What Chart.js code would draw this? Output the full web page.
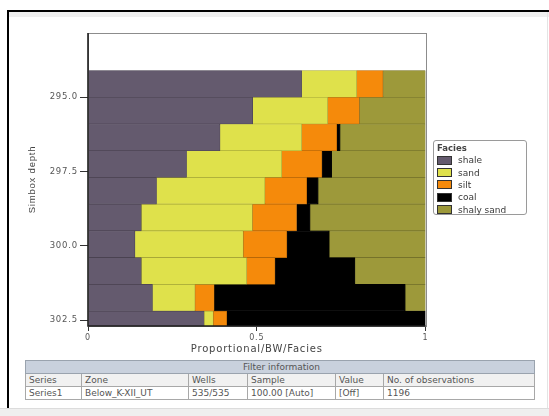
<!DOCTYPE html>
<html>
<head>
<meta charset="utf-8">
<script src="https://cdn.jsdelivr.net/npm/chart.js@4/dist/chart.umd.min.js"></script>
<style>
  html, body { margin: 0; padding: 0; background: #fff; }
  body { width: 549px; height: 416px; position: relative; overflow: hidden;
         font-family: "DejaVu Sans", sans-serif; }
  #frameTop { position: absolute; left: 7px; top: 10px; width: 542px; height: 2px; background: #000; }
  #bandTop { position: absolute; left: 9px; top: 12px; width: 540px; height: 5px; background: #efefef; }
  #frameLeft { position: absolute; left: 7px; top: 10px; width: 2px; height: 398px; background: #000; }
  #frameRight { position: absolute; left: 547px; top: 12px; width: 1px; height: 396px; background: #e4e4e4; }
  #bandBottom { position: absolute; left: 0; top: 408px; width: 549px; height: 8px; background: #efefef;
                border-top: 1px solid #dcdcdc; }
  #wrap { position: absolute; left: 0; top: 0; width: 549px; height: 358px; }
  #legend { position: absolute; left: 433px; top: 140px; width: 94px; height: 75px;
            border: 1px solid #9a9a9a; border-radius: 3px; background: #fff; box-sizing: border-box;
            padding: 1px 0 0 3px; font-size: 9px; color: #3a3a3a; }
  #legend .ttl { font-weight: bold; color: #444; height: 12px; line-height: 12px; font-size: 8.5px; }
  #legend .item { height: 12.4px; display: flex; align-items: center; white-space: nowrap; }
  #legend .sw { width: 13px; height: 7px; border: 1px solid #333; margin-right: 6px; flex: none; }
  #info { position: absolute; left: 25px; top: 360px; border-collapse: collapse; font-size: 9px;
          color: #555; table-layout: fixed; width: 509px; }
  #info td { border: 1px solid #a8a8a8; padding: 0 0 0 3px; height: 12px; line-height: 12px;
             white-space: nowrap; overflow: hidden; }
  #info tr.head td { background: #c9d1dd; text-align: center; border-color: #9aa3ae; }
  #info tr.cols td { background: #f1f1f1; }
</style>
</head>
<body>
<div id="frameTop"></div>
<div id="bandTop"></div>
<div id="frameLeft"></div>
<div id="frameRight"></div>
<div id="bandBottom"></div>
<div id="wrap"><canvas id="chart" width="549" height="358"></canvas></div>
<div id="legend"></div>
<table id="info"></table>
<script>
// Simbox layer centres (depth) and facies proportions per layer
const depths = [294.55, 295.45, 296.35, 297.25, 298.15, 299.05, 299.95, 300.85, 301.75, 302.65];
const shale     = [0.633, 0.488, 0.391, 0.292, 0.203, 0.158, 0.139, 0.158, 0.191, 0.344];
const sand      = [0.163, 0.222, 0.242, 0.282, 0.321, 0.329, 0.321, 0.312, 0.126, 0.027];
const silt      = [0.078, 0.094, 0.104, 0.119, 0.124, 0.131, 0.129, 0.084, 0.057, 0.040];
const coal      = [0.000, 0.000, 0.010, 0.029, 0.034, 0.040, 0.126, 0.237, 0.566, 0.589];
const shalySand = [0.126, 0.196, 0.253, 0.278, 0.318, 0.342, 0.285, 0.209, 0.060, 0.000];

const faciesNames  = ['shale', 'sand', 'silt', 'coal', 'shaly sand'];
const faciesColors = ['#645a6e', '#dfe14b', '#f58a0b', '#000000', '#9d993a'];
const faciesValues = [shale, sand, silt, coal, shalySand];

const depthTicks = [295.0, 297.5, 300.0, 302.5];
const propTicks  = [0, 0.5, 1];

// Filter information table
const filterTitle   = 'Filter information';
const filterColumns = ['Series', 'Zone', 'Wells', 'Sample', 'Value', 'No. of observations'];
const filterRow     = ['Series1', 'Below_K-XII_UT', '535/535', '100.00 [Auto]', '[Off]', '1196'];
const filterWidths  = [56, 107, 59, 88, 48, 151];

// darker outline of a fill colour
function shade(hex, f) {
  const n = parseInt(hex.slice(1), 16);
  const r = Math.round(((n >> 16) & 255) * f), g = Math.round(((n >> 8) & 255) * f), b = Math.round((n & 255) * f);
  return 'rgb(' + r + ',' + g + ',' + b + ')';
}

const datasets = faciesNames.map((name, i) => ({
  label: name,
  data: depths.map((d, k) => ({ x: faciesValues[i][k], y: d })),
  backgroundColor: faciesColors[i],
  borderColor: shade(faciesColors[i], 0.72),
  borderWidth: 0.6,
  borderSkipped: false,
  inflateAmount: 0.3,
  barPercentage: 1,
  categoryPercentage: 1,
  clip: 0
}));

const frame = {
  id: 'frame',
  beforeDraw(chart) { chart.ctx.letterSpacing = '0.8px'; },
  afterDatasetsDraw(chart) {
    const { ctx, chartArea: a } = chart;
    ctx.save();
    ctx.strokeStyle = '#8c8c8c';
    ctx.lineWidth = 1;
    ctx.strokeRect(Math.round(a.left) + 0.5, Math.round(a.top) + 0.5,
                   Math.round(a.right - a.left), Math.round(a.bottom - a.top));
    ctx.strokeStyle = '#1e1e1e';
    ctx.lineWidth = 1.6;
    ctx.beginPath();
    ctx.moveTo(a.left, a.top);
    ctx.lineTo(a.left, a.bottom);
    ctx.lineTo(a.right, a.bottom);
    ctx.stroke();
    ctx.restore();
  }
};

new Chart(document.getElementById('chart'), {
  type: 'bar',
  data: { datasets },
  plugins: [frame],
  options: {
    indexAxis: 'y',
    responsive: false,
    animation: false,
    layout: { padding: { left: 0, right: 123.5, top: 33, bottom: 0 } },
    plugins: { legend: { display: false }, tooltip: { enabled: false } },
    scales: {
      x: {
        type: 'linear', stacked: true, min: 0, max: 1,
        afterBuildTicks: s => { s.ticks = propTicks.map(v => ({ value: v })); },
        afterFit: s => { s.height = 32; },
        ticks: { color: '#555', font: { family: 'DejaVu Sans', size: 8 }, padding: 2,
                 maxRotation: 0, callback: v => String(v) },
        grid: { display: true, drawOnChartArea: false, drawTicks: true, tickLength: 5, color: '#333' },
        border: { display: false },
        title: { display: true, text: 'Proportional/BW/Facies', color: '#444',
                 font: { family: 'DejaVu Sans', size: 10 }, padding: { top: 0, bottom: 3 } }
      },
      y: {
        type: 'linear', stacked: true, reverse: true, min: 292.84, max: 302.7, offset: false,
        afterBuildTicks: s => { s.ticks = depthTicks.map(v => ({ value: v })); },
        afterFit: s => { s.width = 88; },
        ticks: { color: '#555', font: { family: 'DejaVu Sans', size: 8.5 }, padding: 2,
                 callback: v => Number(v).toFixed(1) },
        grid: { display: true, offset: false, drawOnChartArea: false, drawTicks: true, tickLength: 8, color: '#333' },
        border: { display: false },
        title: { display: true, text: 'Simbox depth', color: '#444',
                 font: { family: 'Liberation Sans', size: 9.5 }, padding: { top: 27, bottom: 0 } }
      }
    }
  }
});

// Legend
const legend = document.getElementById('legend');
legend.innerHTML = '<div class="ttl">Facies</div>' + faciesNames.map((n, i) =>
  '<div class="item"><span class="sw" style="background:' + faciesColors[i] + '"></span>' + n + '</div>'
).join('');

// Filter table
const info = document.getElementById('info');
info.innerHTML =
  '<colgroup>' + filterWidths.map(w => '<col style="width:' + w + 'px">').join('') + '</colgroup>' +
  '<tr class="head"><td colspan="' + filterColumns.length + '">' + filterTitle + '</td></tr>' +
  '<tr class="cols">' + filterColumns.map(c => '<td>' + c + '</td>').join('') + '</tr>' +
  '<tr>' + filterRow.map(c => '<td>' + c + '</td>').join('') + '</tr>';
</script>
</body>
</html>
